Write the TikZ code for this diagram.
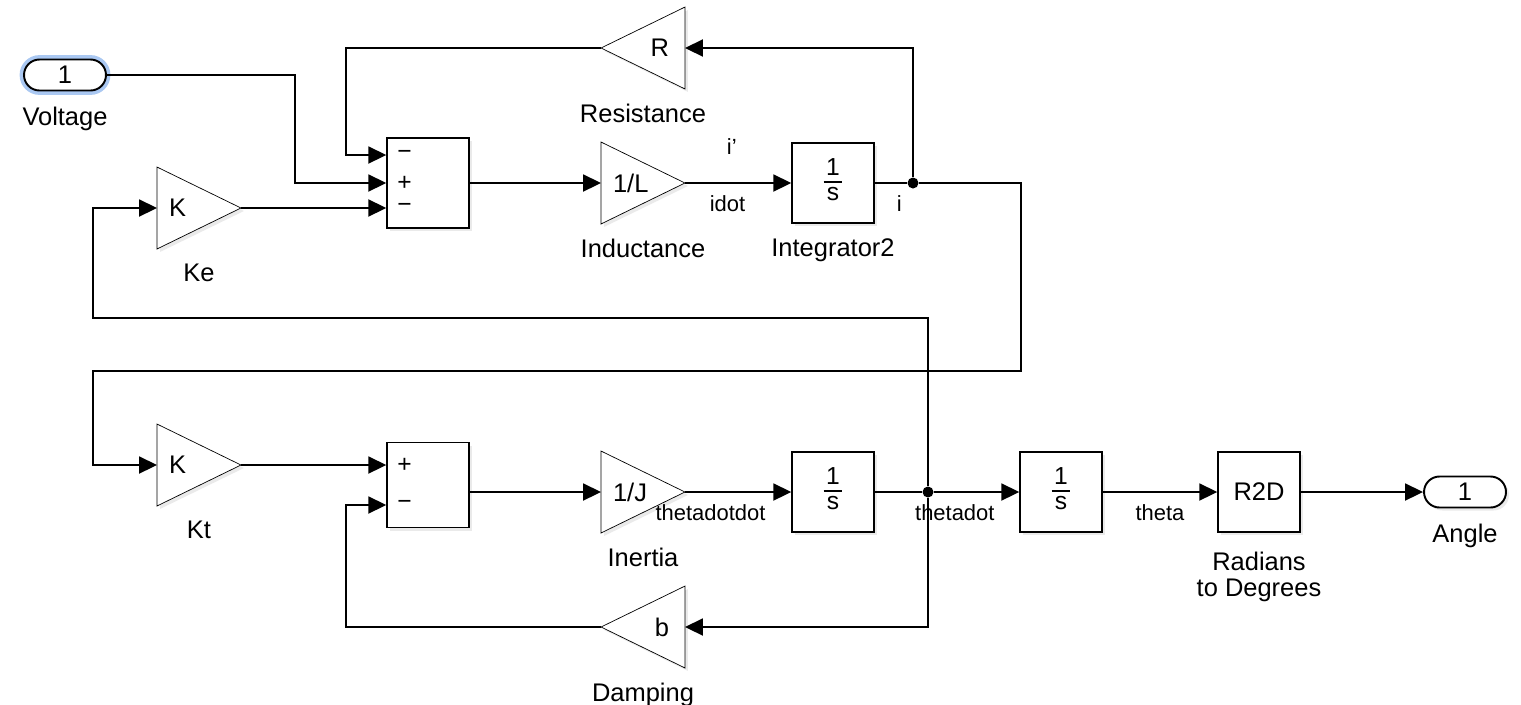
\documentclass[tikz,border=0pt]{standalone}
\usepackage{fontspec}
\setmainfont{Liberation Sans}
\usepackage{tikz}
\usetikzlibrary{positioning,arrows.meta,shadows,backgrounds}

\definecolor{selglow}{RGB}{170,200,242}
\newcommand{\intfrac}{{\fontsize{14}{14}\selectfont\setlength{\arrayrulewidth}{1pt}\begin{tabular}{@{\hspace{1.5pt}}c@{\hspace{1.5pt}}}1\\[-1pt]\hline s\end{tabular}}}

\begin{document}
\begin{tikzpicture}[x=0.02cm, y=-0.02cm, line width=1.1pt, font=\fontsize{14.5}{15}\selectfont,
  shad/.style={drop shadow={shadow xshift=0.06cm, shadow yshift=-0.06cm, opacity=0.16}},
  box/.style={draw, fill=white, shad, inner sep=0pt, minimum width=1.63cm, minimum height=1.6cm},
  port/.style={draw, fill=white, shad, rounded corners=0.31cm, inner sep=0pt, minimum width=1.64cm, minimum height=0.62cm},
  gainr/.style={inner ysep=0pt, inner xsep=0.22cm, text width=1.2cm, align=left, minimum height=1.6cm},
  gainl/.style={inner ysep=0pt, inner xsep=0.3cm, text width=1.04cm, align=right, minimum height=1.6cm},
  tri/.style={draw, fill=white, line join=miter, shad},
  lbl/.style={align=center, inner sep=0pt},
  sig/.style={font=\fontsize{12.5}{13}\selectfont, inner sep=0pt},
  sgn/.style={font=\fontsize{14}{14}\selectfont, inner sep=0pt},
  dotn/.style={circle, fill, inner sep=0pt, minimum size=0.22cm},
  arr/.style={-{Triangle[length=0.36cm, width=0.34cm]}}]
\useasboundingbox (0,0) rectangle (1521,704);
% electrical part
\node[port, preaction={draw=selglow, line width=5pt}] (volt) at (65,75) {1};
\node[lbl, below=0.3cm of volt] (voltlbl) {Voltage};
\node[box, minimum height=1.8cm] (s1) at (428,183) {};
\coordinate (s1a) at ([yshift=0.56cm]s1.west);
\coordinate (s1b) at (s1.west);
\coordinate (s1c) at ([yshift=-0.5cm]s1.west);
\node[sgn, right=0.2cm of s1a] (s1sa) {−};
\node[sgn, right=0.2cm of s1b] (s1sb) {+};
\node[sgn, right=0.2cm of s1c] (s1sc) {−};
\node[gainr] (ke) at (199,208) {K};
\node[lbl, below=0.28cm of ke] (kelbl) {Ke};
\node[gainl] (res) at (643,48) {R};
\node[lbl, below=0.28cm of res] (reslbl) {Resistance};
\node[gainr] (ind) at (643,183) {1/L};
\node[lbl, below=0.28cm of ind] (indlbl) {Inductance};
\node[box] (int2) at (833,183) {\intfrac};
\node[lbl, below=0.28cm of int2] (int2lbl) {Integrator2};
\node[dotn] (ji) at (913,183) {};
% mechanical part
\node[gainr] (kt) at (199,465) {K};
\node[lbl, below=0.28cm of kt] (ktlbl) {Kt};
\node[box, minimum height=1.7cm] (s2) at (428,485) {};
\coordinate (s2a) at ([yshift=0.4cm]s2.west);
\coordinate (s2b) at ([yshift=-0.4cm]s2.west);
\node[sgn, right=0.2cm of s2a] (s2sa) {+};
\node[sgn, right=0.2cm of s2b] (s2sb) {−};
\node[gainr] (inr) at (643,492) {1/J};
\node[lbl, below=0.28cm of inr] (inrlbl) {Inertia};
\node[box] (int3) at (833,492) {\intfrac};
\node[dotn] (jw) at (928,492) {};
\node[box] (int4) at (1061,492) {\intfrac};
\node[box] (r2d) at (1259,492) {R2D};
\node[lbl, below=0.36cm of r2d] (r2dlbl) {Radians\\to Degrees};
\node[port] (angle) at (1465,492) {1};
\node[lbl, below=0.3cm of angle] (anglelbl) {Angle};
\node[gainl] (damp) at (643,627) {b};
\node[lbl, below=0.28cm of damp] (damplbl) {Damping};
% gain triangles
\begin{scope}[on background layer]
\fill[white] (0,0) rectangle (1521,704);
\foreach \g in {ke,ind,kt,inr} { \draw[tri] (\g.north west) -- (\g.east) -- (\g.south west) -- cycle; }
\foreach \g in {res,damp} { \draw[tri] (\g.north east) -- (\g.west) -- (\g.south east) -- cycle; }
\end{scope}
% signals
\draw[arr] (volt.east) -- ++(188,0) |- (s1b);
\draw[arr] (res.west) -- ++(-255,0) |- (s1a);
\draw[arr] (ke.east) -- (s1c);
\draw[arr] (s1.east) -- (ind.west);
\draw[arr] (ind.east) -- node[sig, above=0.56cm, pos=0.44] {i\char"27} node[sig, below=0.24cm, pos=0.4] {idot} (int2.west);
\draw (int2.east) -- node[sig, below=0.24cm, pos=0.77] {i} (ji);
\draw[arr] (ji) |- (res.east);
\draw[arr] (ji) -- ++(108,0) -- ++(0,188) -- ++(-928,0) |- (kt.west);
\draw[arr] (kt.east) -- (s2a);
\draw[arr] (s2.east |- inr.west) -- (inr.west);
\draw[arr] (inr.east) -- node[sig, below=0.24cm, pos=0.24] {thetadotdot} (int3.west);
\draw (int3.east) -- (jw);
\draw[arr] (jw) -- node[sig, below=0.24cm, pos=0.24] {thetadot} (int4.west);
\draw[arr] (int4.east) -- node[sig, below=0.24cm] {theta} (r2d.west);
\draw[arr] (r2d.east) -- (angle.west);
\draw[arr] (jw) |- (damp.east);
\draw[arr] (damp.west) -- ++(-255,0) |- (s2b);
\draw[arr] (jw) -- ++(0,-174) -- ++(-835,0) |- (ke.west);
\end{tikzpicture}
\end{document}
